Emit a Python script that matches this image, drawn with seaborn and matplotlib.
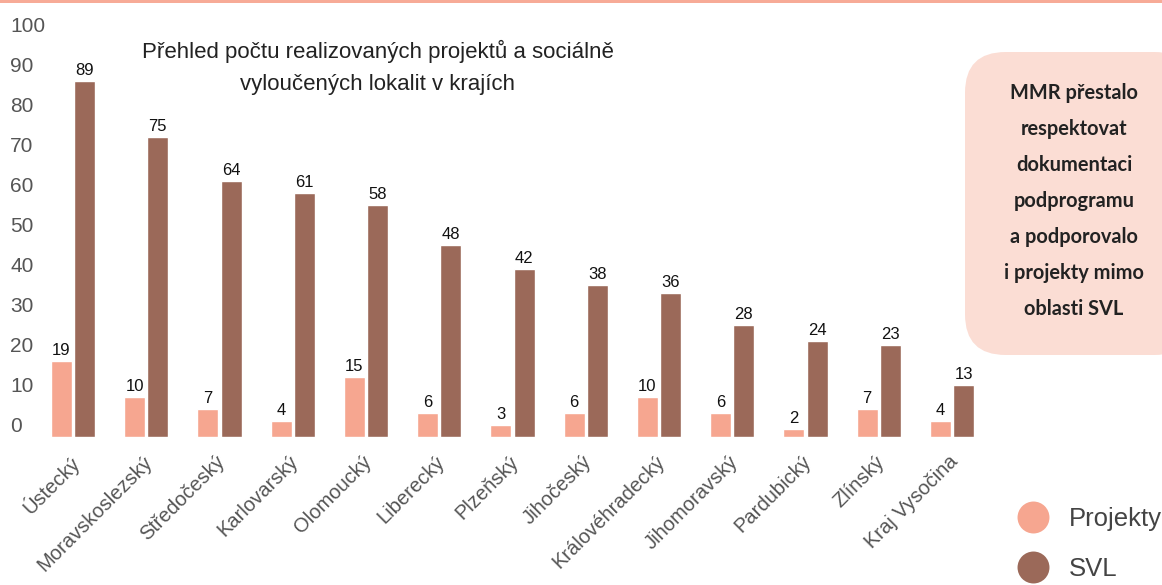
import numpy as np
import pandas as pd
import matplotlib
matplotlib.use("Agg")
import matplotlib.pyplot as plt
import matplotlib.transforms as mtransforms
from matplotlib.patches import FancyBboxPatch, Rectangle
from matplotlib.lines import Line2D
import seaborn as sns

# ---- data ----
kraje = ["Ústecký", "Moravskoslezský", "Středočeský", "Karlovarský", "Olomoucký",
         "Liberecký", "Plzeňský", "Jihočeský", "Královéhradecký", "Jihomoravský",
         "Pardubický", "Zlínský", "Kraj Vysočina"]
projekty = [19, 10, 7, 4, 15, 6, 3, 6, 10, 6, 2, 7, 4]
svl = [89, 75, 64, 61, 58, 48, 42, 38, 36, 28, 24, 23, 13]
series_names = ["Projekty", "SVL"]
yticks = [0, 10, 20, 30, 40, 50, 60, 70, 80, 90, 100]

title = "Přehled počtu realizovaných projektů a sociálně\nvyloučených lokalit v krajích"
note = ("MMR přestalo\nrespektovat\ndokumentaci\npodprogramu\n"
        "a podporovalo\ni projekty mimo\noblasti SVL")

C_PROJ = "#F6A690"
C_SVL = "#9B6959"
C_BOX = "#FBDDD4"
C_TEXT = "#555555"

df = pd.DataFrame({
    "kraj": kraje * 2,
    "serie": [series_names[0]] * len(kraje) + [series_names[1]] * len(kraje),
    "hodnota": projekty + svl,
})

sns.set_style("white")
plt.rcParams["font.family"] = ["Liberation Sans", "DejaVu Sans"]

W, H = 1162, 585
fig = plt.figure(figsize=(W / 100, H / 100), dpi=100)
ax = fig.add_axes([36.4 / W, (H - 437) / H, (988.6 - 36.4) / W, 400 / H])

sns.barplot(data=df, x="kraj", y="hodnota", hue="serie", order=kraje,
            hue_order=series_names, palette=[C_PROJ, C_SVL],
            width=0.63, gap=0.09, saturation=1, legend=False, ax=ax)

for cont in ax.containers:
    ax.bar_label(cont, fmt="%d", padding=2, fontsize=12, color="#111111")

ax.set_xlim(-0.5, len(kraje) - 0.5)
ax.set_ylim(0, 100)
ax.set_yticks(yticks)
ax.set_xlabel("")
ax.set_ylabel("")
sns.despine(ax=ax, left=True, bottom=True)
ax.tick_params(axis="y", length=0, pad=19, labelsize=15, labelcolor=C_TEXT)
ax.tick_params(axis="x", length=0, pad=11, labelsize=14.5, labelcolor=C_TEXT)
for lab in ax.get_yticklabels():
    lab.set_horizontalalignment("left")
    lab.set_transform(lab.get_transform() +
                      mtransforms.ScaledTranslation(0, 0.12, fig.dpi_scale_trans))
ax.set_xticks(range(len(kraje)))
ax.set_xticklabels(kraje, rotation=45, ha="right", rotation_mode="anchor")
for lab in ax.get_xticklabels():
    lab.set_transform(lab.get_transform() +
                      mtransforms.ScaledTranslation(-0.04, 0, fig.dpi_scale_trans))

# title inside plot area
fig.text(378 / W, 1 - 67 / H, title, ha="center", va="center", fontsize=16,
         color="#222222", linespacing=1.68)

# top accent line
fig.add_artist(Rectangle((0, 1 - 3 / H), 1, 3 / H, transform=fig.transFigure,
                         facecolor="#F7AB97", edgecolor="none"))

# note box
box = FancyBboxPatch((965 / W, 1 - 355 / H), 230 / W, 303 / H,
                     boxstyle="round,pad=0,rounding_size=0.035",
                     transform=fig.transFigure, facecolor=C_BOX, edgecolor="none",
                     mutation_aspect=W / H)
fig.add_artist(box)
fig.text(1074 / W, 1 - 201 / H, note, ha="center", va="center", fontsize=14.4,
         fontweight="bold", color="#222222", linespacing=2.0,
         family=["Lato", "DejaVu Sans"])

# legend
handles = [Line2D([], [], marker="o", linestyle="none", markersize=23,
                  markerfacecolor=c, markeredgecolor="none") for c in (C_PROJ, C_SVL)]
leg = fig.legend(handles, series_names, loc="center left",
                 bbox_to_anchor=(1014 / W, 1 - 544 / H), frameon=False,
                 fontsize=18.5, labelspacing=1.0, handletextpad=0.65,
                 handlelength=1.5, borderpad=0, borderaxespad=0)
for t in leg.get_texts():
    t.set_color("#444444")

fig.savefig("out.png", dpi=100)
